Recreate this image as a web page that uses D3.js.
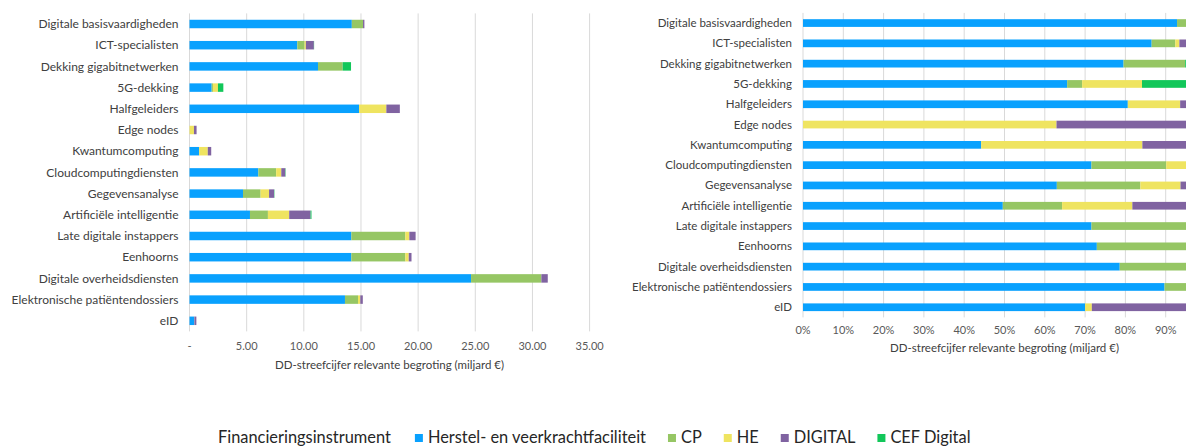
<!DOCTYPE html>
<html>
<head>
<meta charset="utf-8">
<script src="https://cdn.jsdelivr.net/npm/d3@7"></script>
<style>
  html, body { margin: 0; padding: 0; background: #fff; }
  svg { display: block; font-family: Lato, 'Noto Sans', sans-serif; }
</style>
</head>
<body>
<svg id="chart" width="1186" height="446"></svg>
<script>
// ── Data (miljard €) ─────────────────────────────────────────────
const categories = [
  'Digitale basisvaardigheden', 'ICT-specialisten', 'Dekking gigabitnetwerken',
  '5G-dekking', 'Halfgeleiders', 'Edge nodes', 'Kwantumcomputing',
  'Cloudcomputingdiensten', 'Gegevensanalyse', 'Artificiële intelligentie',
  'Late digitale instappers', 'Eenhoorns', 'Digitale overheidsdiensten',
  'Elektronische patiëntendossiers', 'eID'
];
const rrf     = [14.20, 9.43, 11.24, 1.94, 14.83, 0.00, 0.84, 6.02, 4.68, 5.29, 14.16, 14.16, 24.63, 13.60, 0.42];
const cp      = [ 0.98, 0.64,  2.16, 0.11,  0.00, 0.00, 0.00, 1.56, 1.54, 1.57,  4.72,  4.72,  6.15,  1.14, 0.00];
const he      = [ 0.00, 0.11,  0.00, 0.44,  2.39, 0.39, 0.76, 0.45, 0.74, 1.86,  0.35,  0.30,  0.00,  0.20, 0.01];
const digital = [ 0.12, 0.70,  0.00, 0.00,  1.18, 0.23, 0.30, 0.35, 0.44, 1.87,  0.55,  0.24,  0.56,  0.22, 0.17];
const cef     = [ 0.00, 0.02,  0.73, 0.47,  0.00, 0.00, 0.00, 0.03, 0.03, 0.08,  0.00,  0.00,  0.00,  0.00, 0.00];

const seriesNames = ['Herstel- en veerkrachtfaciliteit', 'CP', 'HE', 'DIGITAL', 'CEF Digital'];
const seriesKeys  = ['rrf', 'cp', 'he', 'digital', 'cef'];
const valueTicks  = [0, 5, 10, 15, 20, 25, 30, 35];
const shareTicks  = [0, 0.1, 0.2, 0.3, 0.4, 0.5, 0.6, 0.7, 0.8, 0.9, 1.0];
// the 100% label falls outside the window in the original, only its gridline is drawn
const shareTickLabels = [0, 0.1, 0.2, 0.3, 0.4, 0.5, 0.6, 0.7, 0.8, 0.9];

const COLORS = {
  rrf:     '#09A1FE',
  cp:      '#96C664',
  he:      '#EFE460',
  digital: '#8063A1',
  cef:     '#12C75A',
};

const columns = { rrf, cp, he, digital, cef };
const rows = categories.map((c, i) => {
  const r = { cat: c };
  seriesKeys.forEach(k => r[k] = columns[k][i]);
  return r;
});
const rowsShare = rows.map(r => {
  const tot = d3.sum(seriesKeys, k => r[k]);
  const o = { cat: r.cat };
  seriesKeys.forEach(k => o[k] = r[k] / tot);
  return o;
});

const svg = d3.select('#chart');
const GRID = '#D9D9D9';
const LABEL = '#404040';
const TICK = '#595959';

// ── Generic stacked bar panel ───────────────────────────────────
function panel(opts) {
  const { data, x, y, tickValues, labelValues, tickFmt, labelSize, tickY, titleY } = opts;
  const g = svg.append('g');

  g.append('g')
    .selectAll('line')
    .data(tickValues)
    .join('line')
    .attr('x1', d => x(d)).attr('x2', d => x(d))
    .attr('y1', y.range()[0]).attr('y2', y.range()[1])
    .attr('stroke', GRID).attr('stroke-width', 1);

  const stacked = d3.stack().keys(seriesKeys)(data);
  g.append('g')
    .selectAll('g')
    .data(stacked)
    .join('g')
    .attr('fill', s => COLORS[s.key])
    .selectAll('rect')
    .data(s => s)
    .join('rect')
    .attr('x', d => x(d[0]))
    .attr('width', d => Math.max(0, x(d[1]) - x(d[0])))
    .attr('y', d => y(d.data.cat))
    .attr('height', y.bandwidth());

  g.append('g')
    .selectAll('text')
    .data(categories)
    .join('text')
    .attr('x', x.range()[0] - 11)
    .attr('y', d => y(d) + y.bandwidth() / 2)
    .attr('dy', '0.35em')
    .attr('text-anchor', 'end')
    .attr('font-size', labelSize)
    .attr('fill', LABEL)
    .text(d => d);

  g.append('g')
    .selectAll('text')
    .data(labelValues)
    .join('text')
    .attr('x', d => x(d))
    .attr('y', tickY)
    .attr('text-anchor', 'middle')
    .attr('font-size', '11px')
    .attr('fill', TICK)
    .text(tickFmt);

  const [x0, x1] = x.range();
  g.append('text')
    .attr('x', (x0 + x1) / 2)
    .attr('y', titleY)
    .attr('text-anchor', 'middle')
    .attr('font-size', '11.5px')
    .attr('fill', LABEL)
    .text('DD-streefcijfer relevante begroting (miljard €)');
}

// ── Left: absolute values ───────────────────────────────────────
const xL = d3.scaleLinear().domain([0, 35]).range([189.5, 589.6]);
const yL = d3.scaleBand().domain(categories).range([13.4, 331.4]).paddingInner(0.6).paddingOuter(0.3);
panel({
  data: rows, x: xL, y: yL, tickValues: valueTicks, labelValues: valueTicks,
  tickFmt: d => d === 0 ? '-' : d3.format('.2f')(d),
  labelSize: '12px', tickY: 350, titleY: 369
});

// ── Right: shares ───────────────────────────────────────────────
const xR = d3.scaleLinear().domain([0, 1]).range([803, 1206]);
const yR = d3.scaleBand().domain(categories).range([12.9, 317.4]).paddingInner(0.62).paddingOuter(0.31);
panel({
  data: rowsShare, x: xR, y: yR, tickValues: shareTicks, labelValues: shareTickLabels,
  tickFmt: d3.format('.0%'),
  labelSize: '11.5px', tickY: 334, titleY: 352
});

// ── Legend ──────────────────────────────────────────────────────
const legend = svg.append('g').attr('transform', 'translate(218,443)');
const lt = legend.append('text')
  .attr('x', 0).attr('y', 0)
  .attr('font-size', '16.4px').attr('fill', '#262626')
  .text('Financieringsinstrument');
let lx = lt.node().getComputedTextLength() + 24;
seriesKeys.forEach((k, i) => {
  legend.append('rect')
    .attr('x', lx).attr('y', -9).attr('width', 8).attr('height', 8)
    .attr('fill', COLORS[k]);
  const t = legend.append('text')
    .attr('x', lx + 13).attr('y', 0)
    .attr('font-size', '16.4px').attr('fill', '#262626')
    .text(seriesNames[i]);
  lx += 13 + t.node().getComputedTextLength() + 22;
});
</script>
</body>
</html>
